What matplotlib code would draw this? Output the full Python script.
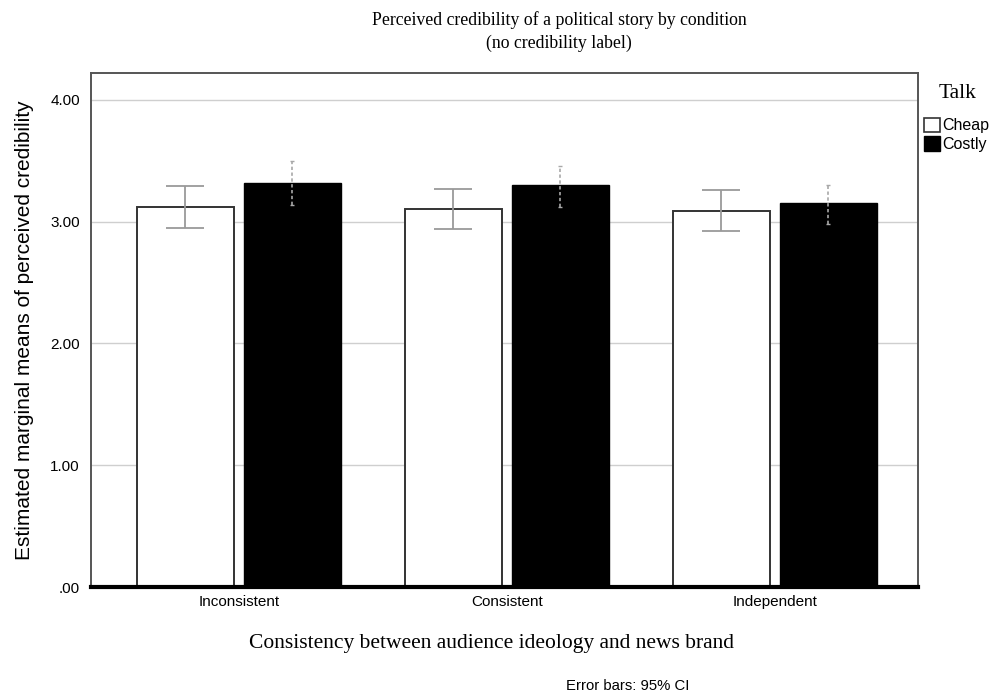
import matplotlib
matplotlib.use("Agg")
import matplotlib.pyplot as plt
from matplotlib.patches import Patch
import numpy as np

# Estimated marginal means and 95% CI bounds
categories = ["Inconsistent", "Consistent", "Independent"]
cheap_mean = [3.12, 3.10, 3.09]
cheap_lo = [2.95, 2.94, 2.92]
cheap_hi = [3.29, 3.27, 3.26]
costly_mean = [3.32, 3.30, 3.15]
costly_lo = [3.14, 3.12, 2.98]
costly_hi = [3.50, 3.46, 3.30]
yticks = [0, 1, 2, 3, 4]
ytick_labels = [".00", "1.00", "2.00", "3.00", "4.00"]

sans = "Liberation Sans"
serif = "Liberation Serif"

fig = plt.figure(figsize=(9.93, 7.0), dpi=100)
ax = fig.add_axes([0.0916, 0.1614, 0.8329, 0.7343])

x = np.arange(len(categories))
width = 0.362
off = 0.2

ax.bar(x - off, cheap_mean, width, color="white", edgecolor="#333333",
       linewidth=1.4, zorder=2)
ax.bar(x + off, costly_mean, width, color="black", edgecolor="black",
       linewidth=1.0, zorder=2)

cm = np.array(cheap_mean)
ax.errorbar(x - off, cm, yerr=[cm - np.array(cheap_lo), np.array(cheap_hi) - cm],
            fmt="none", ecolor="#9a9a9a", elinewidth=1.3, capsize=13.5,
            capthick=1.3, zorder=3)
km = np.array(costly_mean)
eb = ax.errorbar(x + off, km, yerr=[km - np.array(costly_lo), np.array(costly_hi) - km],
                 fmt="none", ecolor="#a8a8a8", elinewidth=1.2, capsize=1.5,
                 capthick=1.0, zorder=3)
for lc in eb[2]:
    lc.set_linestyle((0, (2, 1.5)))

ax.set_xlim(-0.552, 2.535)
ax.set_ylim(0, 4.22)
ax.set_yticks(yticks)
ax.set_yticklabels(ytick_labels, fontfamily=sans, fontsize=11)
ax.set_xticks(x)
ax.set_xticklabels(categories, fontfamily=sans, fontsize=11)
ax.tick_params(axis="y", length=0, pad=8)
ax.tick_params(axis="x", length=0, pad=6)
ax.grid(axis="y", color="#cfcfcf", linewidth=1.0, zorder=0)
ax.set_axisbelow(True)

for side in ["top", "left", "right"]:
    ax.spines[side].set_color("#555555")
    ax.spines[side].set_linewidth(1.4)
ax.spines["bottom"].set_color("black")
ax.spines["bottom"].set_linewidth(3.0)

ax.set_ylabel("Estimated marginal means of perceived credibility",
              fontfamily=sans, fontsize=15, labelpad=12)

fig.text(0.563, 0.971, "Perceived credibility of a political story by condition",
         ha="center", va="center", fontfamily=serif, fontsize=12.8)
fig.text(0.563, 0.938, "(no credibility label)",
         ha="center", va="center", fontfamily=serif, fontsize=12.8)
fig.text(0.495, 0.081, "Consistency between audience ideology and news brand",
         ha="center", va="center", fontfamily=serif, fontsize=15.5)
fig.text(0.632, 0.020, "Error bars: 95% CI", ha="center", va="center",
         fontfamily=sans, fontsize=10.7)

# Legend
fig.text(0.9645, 0.867, "Talk", ha="center", va="center", fontfamily=serif, fontsize=15.5)
handles = [Patch(facecolor="white", edgecolor="#333333", linewidth=1.2),
           Patch(facecolor="black", edgecolor="black")]
fig.legend(handles, ["Cheap", "Costly"], loc="upper left",
           bbox_to_anchor=(0.931, 0.832), frameon=False,
           prop={"family": sans, "size": 11.5}, handlelength=0.95, handleheight=1.0,
           handletextpad=0.15, labelspacing=0.2, borderpad=0, borderaxespad=0)

fig.savefig("out.png", dpi=100)
